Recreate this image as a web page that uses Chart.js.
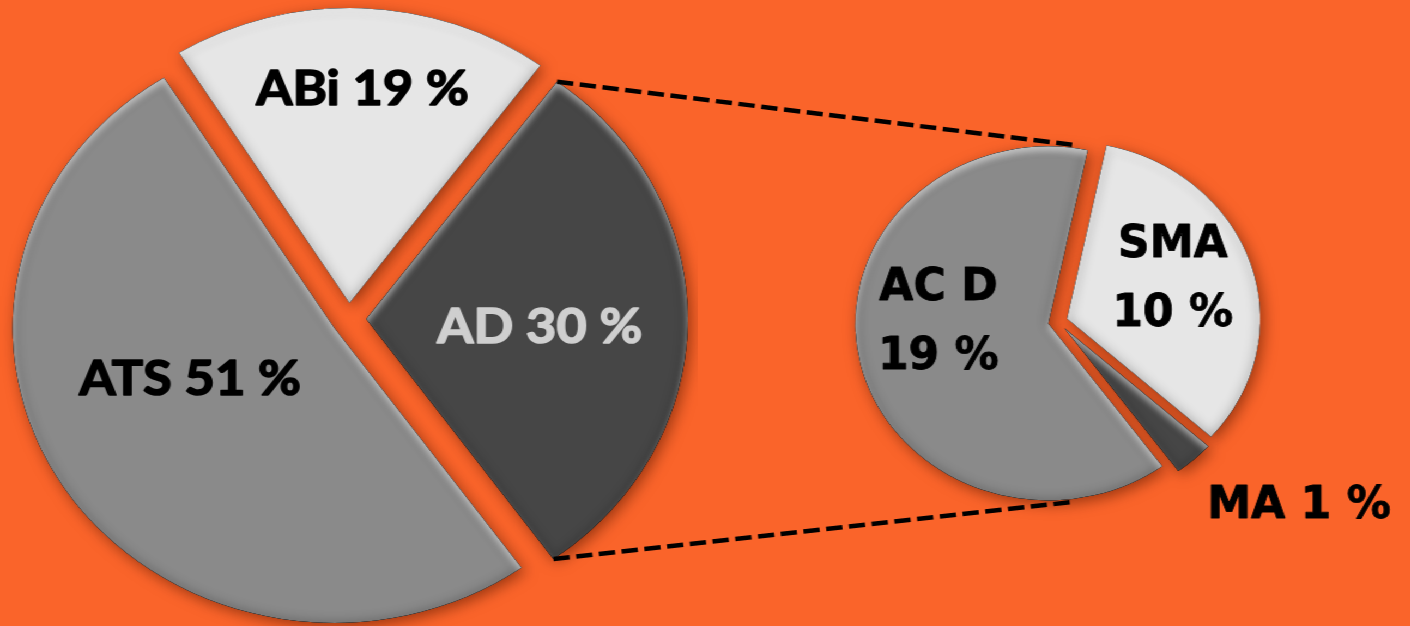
<!DOCTYPE html>
<html>
<head>
<meta charset="utf-8">
<title>Pie of pie</title>
<script src="https://cdn.jsdelivr.net/npm/chart.js@4.4.1/dist/chart.umd.min.js"></script>
<style>
  html, body { margin: 0; padding: 0; overflow: hidden; background: #fa642a; }
  #stage { position: relative; width: 1294px; height: 626px; transform: scaleX(1.09); transform-origin: 0 0; }
  #stage canvas { position: absolute; }
  #mainPie { left: 0; top: 0; }
  #subPie { left: 647px; top: 0; }
  #links { left: 0; top: 0; pointer-events: none; }
</style>
</head>
<body>
<div id="stage">
  <canvas id="mainPie" width="640" height="638"></canvas>
  <canvas id="subPie" width="647" height="643"></canvas>
  <canvas id="links" width="1294" height="626"></canvas>
</div>
<script>
// main pie
const mainLabels = ['ABi', 'AD', 'ATS'];
const mainValues = [19, 30, 51];
const mainColors = ['#e6e6e6', '#464646', '#8a8a8a'];
const mainTextColors = ['#000000', '#cfcfcf', '#000000'];

// breakdown of AD
const subLabels = ['AC D', 'SMA', 'MA'];
const subValues = [19, 10, 1];
const subColors = ['#8a8a8a', '#e6e6e6', '#464646'];
const subTextColors = ['#000000', '#000000', '#000000'];
const subTwoLines = [true, true, false];

// label anchor: [fraction of radius, angle nudge in degrees]
const mainLabelPlace = [[0.73, 1], [0.54, 2], [0.48, 13]];
const subLabelPlace = [[0.57, 15], [0.6, -6], [1.56, -9]];

function slicePath(ctx, arc) {
  ctx.beginPath();
  ctx.moveTo(arc.x, arc.y);
  ctx.arc(arc.x, arc.y, arc.outerRadius, arc.startAngle, arc.endAngle);
  ctx.closePath();
}

// soft shading along the inside of a slice edge
function innerGlow(ctx, arc, color, blur, ox, oy) {
  ctx.save();
  slicePath(ctx, arc);
  ctx.clip();
  ctx.beginPath();
  ctx.rect(arc.x - 3000, arc.y - 3000, 6000, 6000);
  ctx.moveTo(arc.x, arc.y);
  ctx.arc(arc.x, arc.y, arc.outerRadius, arc.startAngle, arc.endAngle);
  ctx.closePath();
  ctx.shadowColor = color;
  ctx.shadowBlur = blur;
  ctx.shadowOffsetX = ox;
  ctx.shadowOffsetY = oy;
  ctx.fillStyle = '#000';
  ctx.fill('evenodd');
  ctx.restore();
}

function shiftOf(arc, distance) {
  const mid = (arc.startAngle + arc.endAngle) / 2;
  return [Math.cos(mid) * distance, Math.sin(mid) * distance];
}

const explodedPie = {
  id: 'explodedPie',
  beforeDatasetDraw(chart, args, opts) {
    const ctx = chart.ctx;
    const arcs = args.meta.data;
    const labels = chart.data.labels;
    const values = chart.data.datasets[0].data;

    // drop shadows first so neighbours never sit under one
    arcs.forEach(arc => {
      const [dx, dy] = shiftOf(arc, opts.distance);
      ctx.save();
      ctx.translate(dx, dy);
      ctx.shadowColor = 'rgba(90, 25, 0, 0.6)';
      ctx.shadowBlur = 14;
      ctx.shadowOffsetX = 3;
      ctx.shadowOffsetY = 4;
      arc.draw(ctx);
      ctx.restore();
    });

    arcs.forEach(arc => {
      const [dx, dy] = shiftOf(arc, opts.distance);
      ctx.save();
      ctx.translate(dx, dy);
      arc.draw(ctx);
      innerGlow(ctx, arc, 'rgba(0, 0, 0, 0.3)', 12, 0, 0);
      innerGlow(ctx, arc, 'rgba(255, 255, 255, 0.55)', 6, 0, 5);
      ctx.restore();
    });

    ctx.save();
    ctx.font = opts.font;
    ctx.textAlign = 'center';
    ctx.textBaseline = 'alphabetic';
    ctx.lineJoin = 'round';
    ctx.lineWidth = opts.weight;
    arcs.forEach((arc, i) => {
      const [dx, dy] = shiftOf(arc, opts.distance);
      const [frac, nudge] = opts.place[i];
      const a = (arc.startAngle + arc.endAngle) / 2 + nudge * Math.PI / 180;
      const cx = arc.x + dx + Math.cos(a) * arc.outerRadius * frac;
      const cy = arc.y + dy + Math.sin(a) * arc.outerRadius * frac;
      const lines = opts.twoLines[i]
        ? [labels[i], values[i] + ' %']
        : [labels[i] + ' ' + values[i] + ' %'];
      const cap = opts.capHeight;
      const top = cy - (lines.length - 1) * opts.lineHeight / 2;
      ctx.fillStyle = opts.textColors[i];
      ctx.strokeStyle = opts.textColors[i];
      lines.forEach((line, k) => {
        const y = top + k * opts.lineHeight + cap / 2;
        ctx.fillText(line, cx, y);
        ctx.strokeText(line, cx, y);
      });
    });
    ctx.restore();
    return false;
  }
};

function pieConfig(labels, values, colors, rotation, radius, labelOpts) {
  return {
    type: 'pie',
    data: {
      labels: labels,
      datasets: [{ data: values, backgroundColor: colors, borderWidth: 0 }]
    },
    options: {
      responsive: false,
      animation: false,
      events: [],
      rotation: rotation,
      radius: radius,
      layout: { padding: 0 },
      plugins: {
        legend: { display: false },
        tooltip: { enabled: false },
        explodedPie: labelOpts
      }
    },
    plugins: [explodedPie]
  };
}

const mainCanvas = document.getElementById('mainPie');
const subCanvas = document.getElementById('subPie');

const mainChart = new Chart(mainCanvas, pieConfig(mainLabels, mainValues, mainColors, -32, 295, {
  distance: 16,
  font: 'bold 48px Lato',
  weight: 1.6,
  capHeight: 34,
  lineHeight: 69,
  textColors: mainTextColors,
  place: mainLabelPlace,
  twoLines: [false, false, false]
}));

const subChart = new Chart(subCanvas, pieConfig(subLabels, subValues, subColors, 143.8, 177, {
  distance: 9,
  font: 'bold 45px "DejaVu Sans Condensed", "DejaVu Sans"',
  weight: 0.8,
  capHeight: 33,
  lineHeight: 69,
  textColors: subTextColors,
  place: subLabelPlace,
  twoLines: subTwoLines
}));

// dashed connectors from AD to the breakdown pie
function drawLinks() {
  const ctx = document.getElementById('links').getContext('2d');
  const ad = mainChart.getDatasetMeta(0).data[mainLabels.indexOf('AD')];
  const sub = subChart.getDatasetMeta(0).data[0];
  const [adx, ady] = shiftOf(ad, 16);
  const [sx, sy] = shiftOf(sub, 9);
  const ox1 = mainCanvas.offsetLeft + ad.x + adx, oy1 = mainCanvas.offsetTop + ad.y + ady;
  const ox2 = subCanvas.offsetLeft + sub.x + sx, oy2 = subCanvas.offsetTop + sub.y + sy;
  const tilt = 83 * Math.PI / 180;
  const ends = [
    [ad.startAngle, -tilt],
    [ad.endAngle, tilt]
  ];
  ctx.strokeStyle = '#000';
  ctx.lineWidth = 4.5;
  ctx.setLineDash([15, 6]);
  ends.forEach(([a1, a2]) => {
    ctx.beginPath();
    ctx.moveTo(ox1 + Math.cos(a1) * ad.outerRadius, oy1 + Math.sin(a1) * ad.outerRadius);
    ctx.lineTo(ox2 + Math.cos(a2) * (sub.outerRadius + 3), oy2 + Math.sin(a2) * (sub.outerRadius + 3));
    ctx.stroke();
  });
}
drawLinks();
</script>
</body>
</html>
